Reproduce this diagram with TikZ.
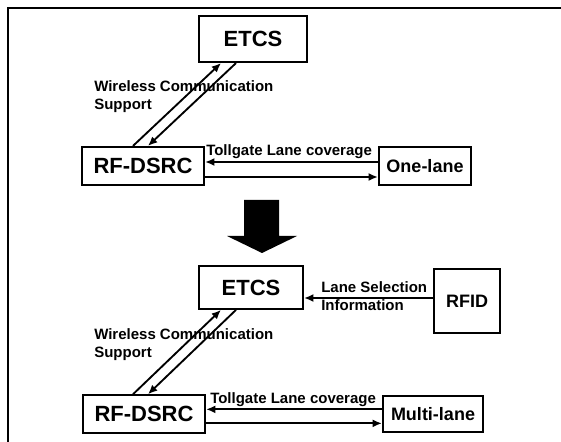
\documentclass[tikz,border=0pt]{standalone}
\usepackage{fontspec}
\setmainfont{Liberation Sans}
\usetikzlibrary{positioning}
\usetikzlibrary{arrows.meta}
\usetikzlibrary{calc}

\begin{document}
\begin{tikzpicture}[x=0.75pt,y=-0.75pt,
  box/.style={draw,line width=1.6pt,inner sep=0pt,font=\bfseries\fontsize{13.5}{15}\selectfont},
  bigbox/.style={box,font=\bfseries\fontsize{16.5}{18}\selectfont},
  lbl/.style={inner sep=0pt,align=left,font=\bfseries\fontsize{11.25}{13.5}\selectfont},
  arr/.style={line width=1.4pt,-{Latex[length=7pt,width=6pt]}},
  frame/.style={line width=1.8pt}]

  \useasboundingbox (0,0) rectangle (561,442);

  % outer frame (top and left side only)
  \draw[frame] (8,442) -- (8,8) -- (561,8);

  % ---- one-lane case ----
  \node[bigbox, minimum width=81pt, minimum height=34.5pt] (etcsA) at (253,39) {ETCS};
  \node[bigbox, minimum width=91.5pt, minimum height=28.5pt] (rfA) at (143,166) {RF-DSRC};
  \node[box, minimum width=69pt, minimum height=28.5pt] (one) at (425,166) {One-lane};

  \node[lbl, anchor=west] (wirelessA) at (94,97) {Wireless Communication\\Support};
  \node[lbl, anchor=west] (tollA) at (206,152) {Tollgate Lane coverage};

  % wireless link
  \draw[arr] ([xshift=-7.5pt]rfA.north) -- ([xshift=-24pt]etcsA.south);
  \draw[arr] ([xshift=-12.75pt]etcsA.south) -- ([xshift=3.75pt]rfA.north);

  % lane coverage
  \draw[arr] ([yshift=3pt]one.west) -- ([yshift=3pt]one.west -| rfA.east);
  \draw[arr] ([yshift=-8.25pt]rfA.east) -- ([yshift=-8.25pt]rfA.east -| one.west);

  % big arrow between the two cases
  \fill (244,200) -- (279,200) -- (279,236) -- (297,236) -- (262,253)
    -- (227,236) -- (244,236) -- cycle;

  % ---- multi-lane case ----
  \node[bigbox, minimum width=78pt, minimum height=32pt] (etcsB) at (251,287.5) {ETCS};
  \node[box, minimum width=49.5pt, minimum height=48pt] (rfid) at (467,301) {RFID};
  \node[bigbox, minimum width=91.5pt, minimum height=28pt] (rfB) at (144,414) {RF-DSRC};
  \node[box, minimum width=75pt, minimum height=27pt] (multi) at (433,414) {Multi-lane};

  \node[lbl, anchor=west] (laneSel) at (321,296.5) {Lane Selection\\Information};
  \node[lbl, anchor=west] (wirelessB) at (94,345) {Wireless Communication\\Support};
  \node[lbl, anchor=west] (tollB) at (210,400) {Tollgate Lane coverage};

  % lane selection input
  \coordinate (laneIn) at ([yshift=2.25pt]rfid.west);
  \draw[arr] (laneIn) -- (laneIn -| etcsB.east);

  % wireless link
  \draw[arr] ([xshift=-8.25pt]rfB.north) -- ([xshift=-22.5pt]etcsB.south);
  \draw[arr] ([xshift=-11.25pt]etcsB.south) -- ([xshift=3pt]rfB.north);

  % lane coverage
  \draw[arr] ([yshift=3.5pt]multi.west) -- ([yshift=3.5pt]multi.west -| rfB.east);
  \draw[arr] ([yshift=-7pt]rfB.east) -- ([yshift=-7pt]rfB.east -| multi.west);

\end{tikzpicture}
\end{document}
